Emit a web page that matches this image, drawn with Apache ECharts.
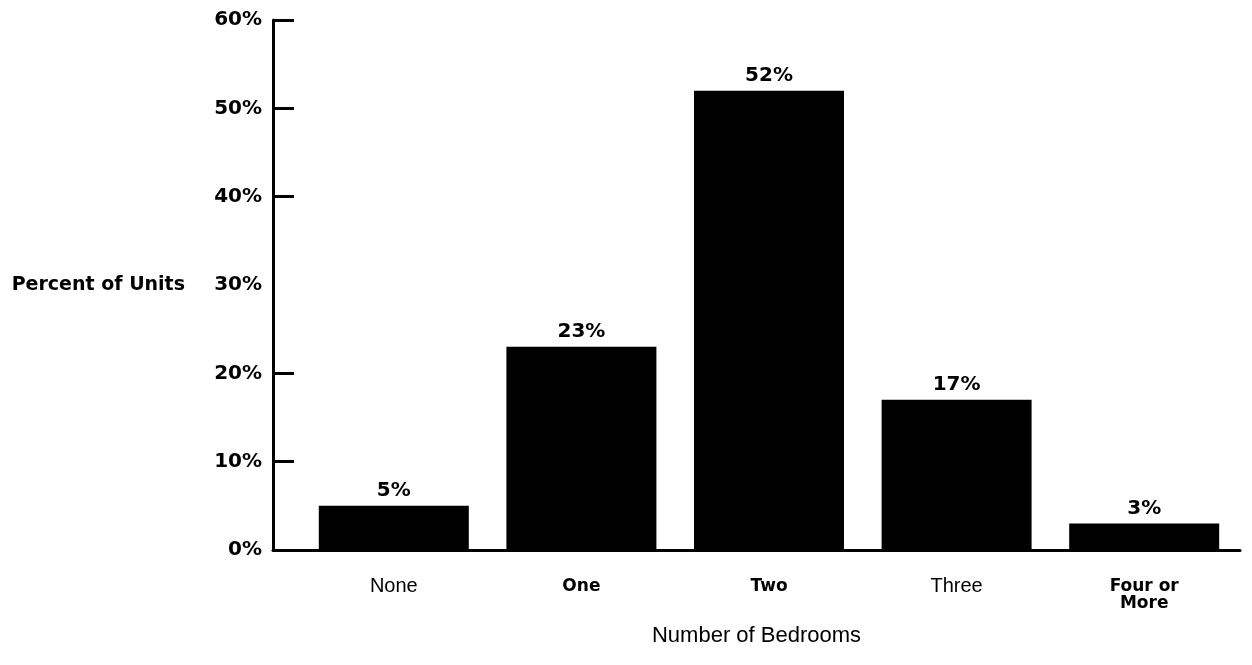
<!DOCTYPE html>
<html>
<head>
<meta charset="utf-8">
<script src="https://cdn.jsdelivr.net/npm/echarts@6/dist/echarts.min.js"></script>
<style>
  html, body { margin: 0; padding: 0; background: #fff; }
  #chart { width: 1252px; height: 665px; }
</style>
</head>
<body>
<div id="chart"></div>
<script>
// bedroom categories and share of units (%)
const categories = ['None', 'One', 'Two', 'Three', 'Four or\nMore']
const percents = [5, 23, 52, 17, 3]
// the original prints no tick mark at 30%
const yLabelValues = [0, 10, 20, 30, 40, 50, 60]
const yTickValues = [0, 10, 20, 40, 50, 60]

// which category labels print in bold in the original
const boldCats = ['One', 'Two', 'Four or\nMore']

const BOLD = 'DejaVu Sans, Liberation Sans, sans-serif'
const NARROW = 'Liberation Sans Narrow, Liberation Sans, sans-serif'

const chart = echarts.init(document.getElementById('chart'))

const option = {
  backgroundColor: '#ffffff',
  animation: false,
  textStyle: { fontFamily: BOLD, color: '#000' },
  grid: [
    { left: 300, right: 14, top: 20, bottom: 115 },
    { left: 273, right: 12, top: 20, bottom: 115 }
  ],
  xAxis: [
    {
      type: 'category',
      gridIndex: 0,
      data: categories,
      axisLine: { show: false },
      axisTick: { show: false },
      axisLabel: {
        margin: 28,
        verticalAlign: 'top',
        color: '#000',
        formatter(v) {
          return boldCats.indexOf(v) >= 0 ? '{b|' + v + '}' : '{n|' + v + '}'
        },
        rich: {
          b: { fontSize: 17, fontWeight: 'bold', lineHeight: 17, fontFamily: BOLD },
          n: { fontSize: 20, fontWeight: 'normal', lineHeight: 17, fontFamily: NARROW }
        }
      }
    },
    {
      type: 'value',
      gridIndex: 1,
      min: 0,
      max: 1,
      axisLine: { show: true, lineStyle: { color: '#000', width: 3 } },
      axisTick: { show: false },
      axisLabel: { show: false },
      splitLine: { show: false },
      name: 'Number of Bedrooms',
      nameLocation: 'middle',
      nameGap: 75,
      nameTextStyle: { fontSize: 22, color: '#000', fontFamily: NARROW }
    }
  ],
  yAxis: [
    {
      type: 'value',
      gridIndex: 0,
      min: 0,
      max: 60,
      interval: 10,
      show: false
    },
    {
      type: 'value',
      gridIndex: 1,
      min: 0,
      max: 60,
      interval: 10,
      axisLine: { show: true, lineStyle: { color: '#000', width: 3 } },
      axisTick: {
        show: true,
        inside: true,
        length: 21,
        customValues: yTickValues,
        lineStyle: { color: '#000', width: 3 }
      },
      axisLabel: {
        margin: 11,
        fontSize: 20,
        fontWeight: 'bold',
        fontFamily: BOLD,
        color: '#000',
        customValues: yLabelValues,
        formatter: '{value}%'
      },
      splitLine: { show: false },
      name: 'Percent of Units',
      nameLocation: 'middle',
      nameRotate: 0,
      nameGap: 88,
      nameTextStyle: {
        fontSize: 19,
        fontWeight: 'bold',
        fontFamily: BOLD,
        color: '#000',
        align: 'right',
        verticalAlign: 'middle'
      }
    }
  ],
  series: [
    {
      type: 'bar',
      xAxisIndex: 0,
      yAxisIndex: 0,
      data: percents,
      barWidth: 150,
      itemStyle: { color: '#000' },
      label: {
        show: true,
        position: 'top',
        distance: 5,
        formatter: '{c}%',
        fontSize: 20,
        fontWeight: 'bold',
        fontFamily: BOLD,
        color: '#000'
      }
    }
  ]
}

chart.setOption(option)
</script>
</body>
</html>
